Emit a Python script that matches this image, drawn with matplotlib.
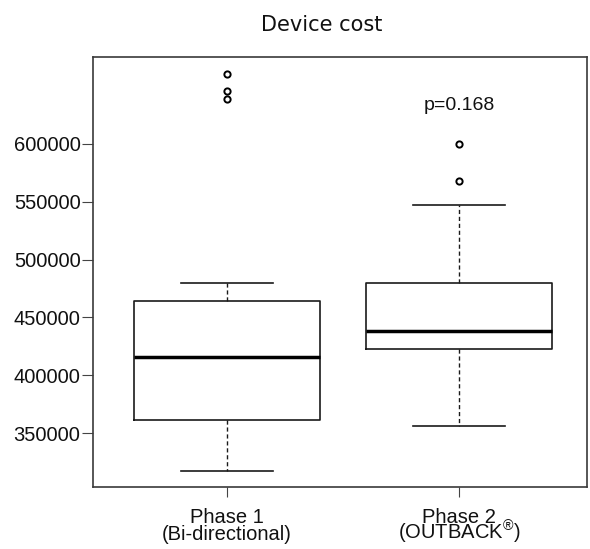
import matplotlib
matplotlib.use('Agg')
import matplotlib.pyplot as plt

plt.rcParams['font.family'] = ['Liberation Sans', 'DejaVu Sans']
plt.rcParams['mathtext.fontset'] = 'custom'
plt.rcParams['mathtext.rm'] = 'Liberation Sans'

groups = ['Phase 1', 'Phase 2']
subtitles = ['(Bi-directional)', '(OUTBACK$^{\\mathrm{®}}$)']
q1 = [361000, 423000]
medians = [415500, 438000]
q3 = [464500, 479500]
whisker_low = [317000, 356000]
whisker_high = [479500, 547000]
outliers = [[660000, 646000, 639000], [599500, 568000]]
p_text = 'p=0.168'
yticks = [350000, 400000, 450000, 500000, 550000, 600000]
positions = [1, 2]

stats = []
for i in range(len(groups)):
    stats.append({'q1': q1[i], 'med': medians[i], 'q3': q3[i],
                  'whislo': whisker_low[i], 'whishi': whisker_high[i],
                  'fliers': outliers[i], 'label': groups[i]})

fig = plt.figure(figsize=(5.9, 5.49), dpi=100)
ax = fig.add_axes([93 / 590, 1 - 487 / 549, 494 / 590, 430 / 549])

ax.bxp(stats, positions=positions, widths=0.8,
       boxprops=dict(color='#1a1a1a', linewidth=1.2),
       medianprops=dict(color='black', linewidth=2.5),
       whiskerprops=dict(color='#1a1a1a', linewidth=1.0, linestyle=(0, (3, 2))),
       capprops=dict(color='#1a1a1a', linewidth=1.2),
       flierprops=dict(marker='o', markersize=4.5, markerfacecolor='white',
                       markeredgecolor='black', markeredgewidth=1.4))

ax.set_xlim(0.422, 2.552)
ax.set_ylim(303500, 675000)
ax.set_yticks(yticks)
ax.set_yticklabels([str(v) for v in yticks], fontsize=14.5, color='#111111')
ax.tick_params(axis='x', labelsize=14.5, length=7, colors='#444444', labelcolor='#111111', pad=8)
ax.tick_params(axis='y', length=8, colors='#444444', labelcolor='#111111', pad=1)

# second line of the group labels (keeps baselines level despite the superscript)
for pos, sub in zip(positions, subtitles):
    ax.annotate(sub, xy=(pos, 0), xycoords=('data', 'axes fraction'),
                xytext=(0, -53), textcoords='offset pixels',
                ha='center', va='baseline', fontsize=14.5, color='#111111')

for s in ax.spines.values():
    s.set_color('#3a3a3a')
    s.set_linewidth(1.2)

ax.text(2, 633500, p_text, ha='center', va='center', fontsize=14, color='#111111')
fig.text(322 / 590, 1 - 25 / 549, 'Device cost', ha='center', va='center',
         fontsize=15, family=['DejaVu Sans'], color='#111111')

fig.savefig('out.png', dpi=100)
